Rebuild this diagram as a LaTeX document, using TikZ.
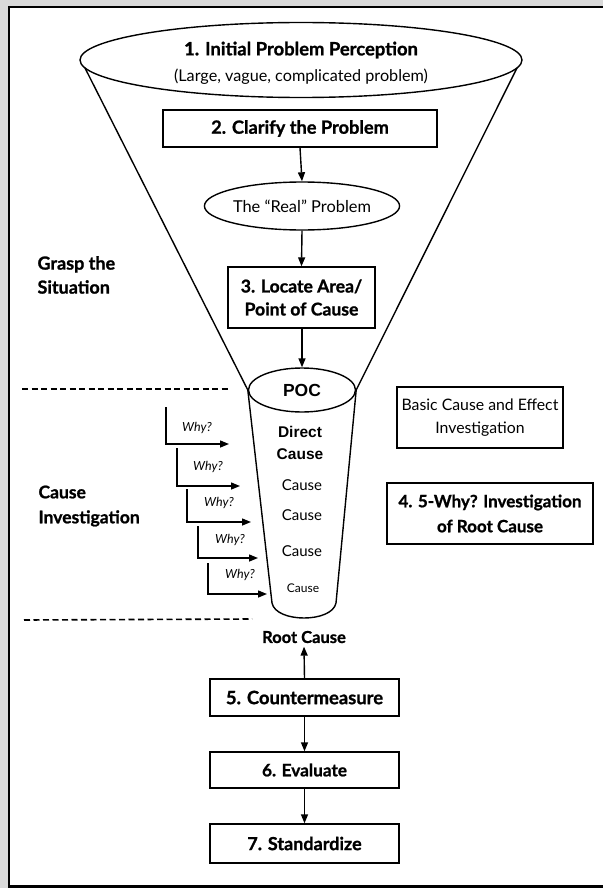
\documentclass[tikz,border=0pt]{standalone}
\usepackage{fontspec}
\setmainfont{Lato}[BoldFeatures={FakeBold=1.1}]
\newfontfamily\arialfont{Liberation Sans}
\usetikzlibrary{shapes.geometric,arrows.meta}
\newcommand{\fsz}[2]{\fontsize{#1}{#2}\selectfont}
\tikzset{
  ln/.style={line width=1.4pt},
  arr/.style={ln,-{Triangle[length=9pt,width=7pt]}},
  boxnode/.style={draw,ln,rectangle,inner sep=0pt,align=center,font=\fsz{18.2}{22}\bfseries},
  ellnode/.style={draw,ln,ellipse,inner sep=0pt,align=center},
  whylbl/.style={font=\fsz{12.5}{14}\itshape},
  causelbl/.style={font=\fsz{15}{16}},
  sidelbl/.style={anchor=west,align=left,font=\fsz{18}{24}\bfseries},
  dashline/.style={line width=1.6pt,dash pattern=on 6pt off 3.5pt},
}
\begin{document}
\begin{tikzpicture}[x=1pt,y=-1pt]
\useasboundingbox (0,0) rectangle (603,888);
% shadow and frame
\fill[gray!30] (0,0) rectangle (603,6);
\fill[gray!30] (0,0) rectangle (8,888);
\draw[line width=2.5pt] (9.2,888) -- (9.2,7.2) -- (603,7.2);
\draw[line width=2.5pt] (9.2,886.6) -- (603,886.6);

% top ellipse
\node[ellnode,minimum width=442pt,minimum height=75pt] (e1) at (301,60) {};
\node[align=center,font=\fsz{18.4}{26}] (t1) at (301,63)
  {\textbf{1. Initial Problem Perception}\\{\fsz{16.2}{26}(Large, vague, complicated problem)}};
\node[boxnode,minimum width=274pt,minimum height=37pt,font=\fsz{18.2}{22}\bfseries] (b2) at (300,128.5) {2. Clarify the Problem};
\node[ellnode,minimum width=190pt,minimum height=48pt,font=\fsz{16.4}{18}] (e2) at (302,206) {The ``Real'' Problem};
\node[boxnode,minimum width=147pt,minimum height=61pt,font=\fsz{17.6}{23}\bfseries] (b3) at (301.5,297.5) {3. Locate Area/\\Point of Cause};
\node[ellnode,minimum width=107pt,minimum height=44pt,font=\fsz{17.5}{20}\arialfont\bfseries] (poc) at (302,390) {POC};

% funnel
\coordinate (fl) at (85,68);
\coordinate (fr) at (517,68);
\draw[ln] (fl) -- (poc.west);
\draw[ln] (fr) -- (poc.east);
% cup
\coordinate (cl) at (272,603);
\coordinate (cr) at (336,603);
\draw[ln] (poc.west) -- (cl) .. controls (276,623) and (332,623) .. (cr) -- (poc.east);

% arrows top
\draw[arr] (b2.south) -- (e2.north);
\draw[arr] (e2.south) -- (b3.north);
\draw[arr] (b3.south -| poc.north) -- (poc.north);

% cup texts
\node[align=center,font=\fsz{15.5}{22}\arialfont\bfseries] (dc) at (300,443) {Direct\\Cause};
\node[causelbl] (c1) at (302,485) {Cause};
\node[causelbl] (c2) at (302,515) {Cause};
\node[causelbl] (c3) at (302,551) {Cause};
\node[font=\fsz{12}{13}] (c4) at (303,588) {Cause};

% why arrows
\coordinate (w1a) at (166,407); \coordinate (w1b) at (229,444);
\coordinate (w2a) at (177,448); \coordinate (w2b) at (240,486);
\coordinate (w3a) at (187,489); \coordinate (w3b) at (251,522);
\coordinate (w4a) at (198,526); \coordinate (w4b) at (258,558);
\coordinate (w5a) at (208,563); \coordinate (w5b) at (267,594);
\draw[arr] (w1a) |- (w1b);
\draw[arr] (w2a) |- (w2b);
\draw[arr] (w3a) |- (w3b);
\draw[arr] (w4a) |- (w4b);
\draw[arr] (w5a) |- (w5b);
\node[whylbl] (y1) at (197,428) {Why?};
\node[whylbl] (y2) at (208,467) {Why?};
\node[whylbl] (y3) at (219,503) {Why?};
\node[whylbl] (y4) at (230,540) {Why?};
\node[whylbl] (y5) at (240,575) {Why?};

% dashed separators
\coordinate (d1a) at (22,389); \coordinate (d1b) at (230,389);
\coordinate (d2a) at (24,620); \coordinate (d2b) at (252,619);
\draw[dashline] (d1a) -- (d1b);
\draw[dashline] (d2a) -- (d2b);

% side labels
\node[sidelbl] (gs) at (34,275) {Grasp the\\Situation};
\node[sidelbl,font=\fsz{17.5}{25}\bfseries] (ci) at (35,506) {Cause\\Investigation};

% right boxes
\node[draw,ln,rectangle,inner sep=0pt,align=center,minimum width=166pt,minimum height=61pt,font=\fsz{15.8}{23}] (bce) at (480,417.5) {Basic Cause and Effect\\Investigation};
\node[boxnode,minimum width=206pt,minimum height=61pt,font=\fsz{17}{25}\bfseries] (b4) at (490,513.5) {4. 5-Why? Investigation\\of Root Cause};

% bottom chain
\node[font=\fsz{16.5}{18}\bfseries] (rc) at (304,637) {Root Cause};
\node[boxnode,minimum width=189pt,minimum height=37pt,font=\fsz{18.4}{22}\bfseries] (b5) at (304.5,697.5) {5. Countermeasure};
\node[boxnode,minimum width=189pt,minimum height=36pt,font=\fsz{17.2}{22}\bfseries] (b6) at (304.5,770) {6. Evaluate};
\node[boxnode,minimum width=189pt,minimum height=39pt,font=\fsz{18}{22}\bfseries] (b7) at (304.5,843.5) {7. Standardize};
\draw[arr] (b5.north) -- (rc.south);
\draw[arr] (b5.south) -- (b6.north);
\draw[arr] (b6.south) -- (b7.north);
\end{tikzpicture}
\end{document}
